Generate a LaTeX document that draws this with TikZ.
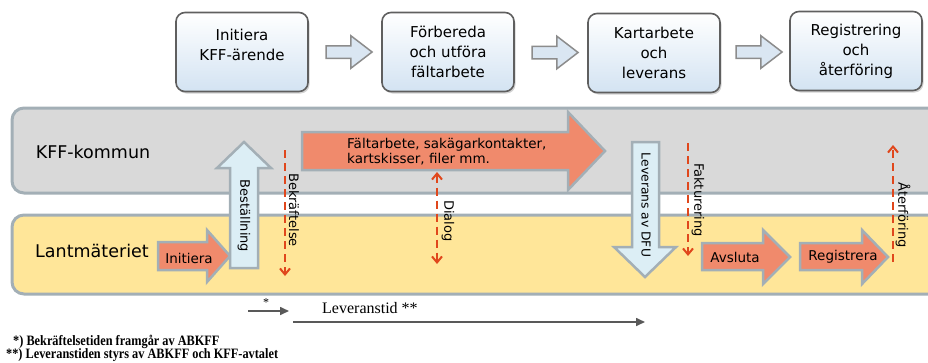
\documentclass[tikz,border=0pt]{standalone}
\usepackage{fontspec}
\setmainfont{DejaVu Sans}
\newfontfamily\notefont{Liberation Serif}
\newfontfamily\narrownote[FakeStretch=0.86]{Liberation Serif}
\usepackage{xcolor}
\usepackage{tikz}
\usetikzlibrary{shapes,arrows,positioning,calc,shadows,arrows.meta}

\definecolor{lanegray}{HTML}{D9D9D9}
\definecolor{laneyellow}{HTML}{FFE699}
\definecolor{laneedge}{HTML}{A3AFB6}
\definecolor{salmon}{HTML}{F08A6C}
\definecolor{paleblue}{HTML}{DCEEF5}
\definecolor{signalred}{HTML}{E0471C}
\definecolor{boxedge}{HTML}{5F5F5F}
\definecolor{boxblue}{HTML}{D3E3F2}
\definecolor{flowblue}{HTML}{DAE6F2}
\definecolor{flowedge}{HTML}{8C8C8C}
\definecolor{timegray}{HTML}{595959}

\tikzset{
  stepbox/.style={draw=boxedge, line width=1.6pt, rounded corners=9pt,
    minimum width=132pt, minimum height=79pt, top color=white, bottom color=boxblue,
    drop shadow={opacity=0.35, shadow xshift=1.5pt, shadow yshift=-2pt},
    align=center, font=\fontsize{15}{20}\selectfont},
  flowarrow/.style={single arrow, draw=flowedge, fill=flowblue, line width=1.5pt,
    minimum height=46pt, inner xsep=0pt, inner ysep=5.5pt,
    single arrow head extend=10pt, single arrow tip angle=75},
  kfflane/.style={draw=laneedge, fill=lanegray, line width=3pt, rounded corners=12pt},
  lmlane/.style={draw=laneedge, fill=laneyellow, line width=3pt, rounded corners=12pt},
  lanelabel/.style={font=\fontsize{17.5}{20}\selectfont},
  orangeblock/.style={draw=laneedge, fill=salmon, line width=2.5pt},
  blueblock/.style={draw=laneedge, fill=paleblue, line width=2.5pt},
  blocktext/.style={font=\fontsize{13.5}{15}\selectfont, inner sep=0pt},
  vlabel/.style={rotate=-90, font=\fontsize{13}{15}\selectfont, inner sep=0pt},
  signal/.style={draw=signalred, line width=2pt, dash pattern=on 8pt off 5pt},
  timeline/.style={draw=timegray, line width=1.6pt, -{Triangle[length=9pt,width=8pt]}},
  footnote/.style={anchor=west, inner sep=0pt, font=\narrownote\bfseries\fontsize{14.3}{14}\selectfont}
}

\begin{document}
\begin{tikzpicture}[x=1pt, y=-1pt]
    \useasboundingbox (0,0) rectangle (928,362);
    \clip (0,0) rectangle (928,362);

    % Process steps
    \node[stepbox] (b1) at (242,52) {};
    \node[align=center, font=\fontsize{15}{20}\selectfont] (t1) at ([yshift=7pt]b1.center) {Initiera\\KFF-ärende};
    \node[stepbox] (b2) at (448,52) {Förbereda\\och utföra\\fältarbete};
    \node[stepbox] (b3) at (654,53) {Kartarbete\\och\\leverans};
    \node[stepbox] (b4) at (856,51) {Registrering\\och\\återföring};
    \node[flowarrow] (f12) at ($(b1.east)!0.5!(b2.west)$) {};
    \node[flowarrow] (f23) at ($(b2.east)!0.5!(b3.west)$) {};
    \node[flowarrow] (f34) at ($(b3.east)!0.5!(b4.west)$) {};

    % Lanes
    \draw[kfflane] (12,108) rectangle (1000,193);
    \draw[lmlane] (12,215) rectangle (1000,294);
    \node[lanelabel] (kff) at (93,152) {KFF-kommun};
    \node[lanelabel] (lm) at (92,251) {Lantmäteriet};

    % Initiera and Beställning
    \draw[orangeblock] (158,242) -- (207,242) -- (207,230) -- (230,256) -- (207,282) -- (207,270) -- (158,270) -- cycle;
    \node[blocktext] (init) at (189,258) {Initiera};
    \draw[blueblock] (230,268) -- (230,168) -- (217,168) -- (244,142) -- (271,168) -- (258,168) -- (258,268) -- cycle;
    \node[vlabel] (best) at (244,216) {Beställning};

    % Bekräftelse
    \coordinate (bek1) at (285,150);
    \coordinate (bek2) at (285,276);
    \draw[signal, -{Straight Barb[length=6pt,width=10pt]}] (bek1) -- (bek2);
    \node[vlabel] (bek) at (294,210) {Bekräftelse};

    % Fältarbete
    \draw[orangeblock] (302,132) -- (568,132) -- (568,112) -- (605,151) -- (568,190) -- (568,170) -- (302,170) -- cycle;
    \node[blocktext, anchor=west, align=left, font=\fontsize{13.5}{15}\selectfont] (falt) at (347,152) {Fältarbete, sakägarkontakter,\\kartskisser, filer mm.};

    % Dialog
    \coordinate (dia1) at (437,172);
    \coordinate (dia2) at (437,264);
    \draw[signal, {Straight Barb[length=6pt,width=10pt]}-{Straight Barb[length=6pt,width=10pt]}] (dia1) -- (dia2);
    \node[vlabel] (dia) at (448,221) {Dialog};

    % Leverans av DFU
    \draw[blueblock] (632,142) -- (659,142) -- (659,247) -- (676,247) -- (645,277) -- (614,247) -- (632,247) -- cycle;
    \node[vlabel, font=\fontsize{12.3}{14}\selectfont] (dfu) at (646,205) {Leverans av DFU};

    % Fakturering
    \coordinate (fak1) at (688,143);
    \coordinate (fak2) at (688,256);
    \draw[signal, -{Straight Barb[length=6pt,width=10pt]}] (fak1) -- (fak2);
    \node[vlabel] (fak) at (698,200) {Fakturering};

    % Avsluta and Registrera
    \draw[orangeblock] (702,243) -- (763,243) -- (763,230) -- (790,257) -- (763,284) -- (763,270) -- (702,270) -- cycle;
    \node[blocktext] (avs) at (735,257) {Avsluta};
    \draw[orangeblock] (800,243) -- (862,243) -- (862,230) -- (888,257) -- (862,284) -- (862,270) -- (800,270) -- cycle;
    \node[blocktext] (reg) at (843,257) {Registrera};

    % Återföring
    \coordinate (ater1) at (893,262);
    \coordinate (ater2) at (893,145);
    \draw[signal, -{Straight Barb[length=6pt,width=10pt]}] (ater1) -- (ater2);
    \node[vlabel] (ater) at (903,215) {Återföring};

    % Times
    \coordinate (s1) at (248,311);
    \coordinate (s2) at (289,311);
    \draw[timeline] (s1) -- (s2);
    \node[font=\notefont\fontsize{12}{14}\selectfont, inner sep=0pt] (star) at (266,303) {*};
    \coordinate (l1) at (293,322);
    \coordinate (l2) at (645,322);
    \draw[timeline] (l1) -- (l2);
    \node[anchor=west, inner sep=0pt, font=\notefont\fontsize{16}{18}\selectfont] (levtid) at (322,308) {Leveranstid **};

    % Footnotes
    \node[footnote] (fn1) at (13,342) {*) Bekräftelsetiden framgår av ABKFF};
    \node[footnote] (fn2) at (6,355) {**) Leveranstiden styrs av ABKFF och KFF-avtalet};
\end{tikzpicture}
\end{document}
